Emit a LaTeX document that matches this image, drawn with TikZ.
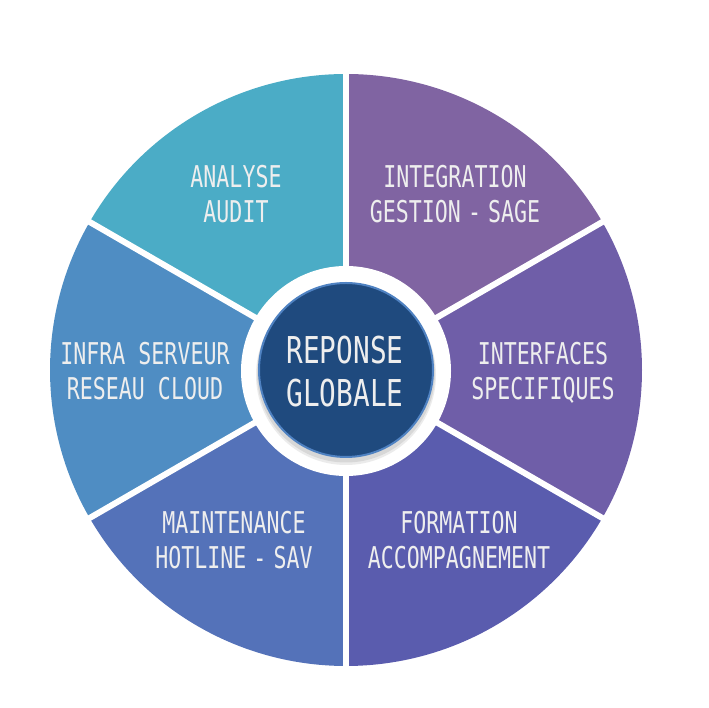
\documentclass[tikz,border=0pt]{standalone}
\usepackage{fontspec}
\newfontfamily\agency{DejaVu Sans Mono}[FakeStretch=0.72]
\newfontfamily\agencyc{DejaVu Sans Mono}[FakeStretch=0.75]
\definecolor{cAqua}{HTML}{4BACC6}
\definecolor{cPurple}{HTML}{8064A2}
\definecolor{cViolet}{HTML}{6F5EA8}
\definecolor{cIndigo}{HTML}{5A5CAE}
\definecolor{cBlueA}{HTML}{5472B9}
\definecolor{cBlueB}{HTML}{4F8DC3}
\definecolor{cCore}{HTML}{1F4A7E}
\definecolor{cCoreEdge}{HTML}{4F82C2}
\definecolor{cText}{HTML}{EEEEEE}
\newcommand\dsep{\hspace{7pt}-\hspace{7pt}}
\tikzset{
  sectortext/.style={text=cText, align=center, text depth=0pt, inner sep=0pt,
    font=\agency\fontsize{30}{35}\selectfont},
  coretext/.style={text=cText, align=center, text depth=0pt, inner sep=0pt,
    font=\agencyc\fontsize{37}{43}\selectfont},
  gap/.style={white, line width=6pt},
}
\begin{document}
\begin{tikzpicture}[x=1pt,y=1pt]
\useasboundingbox (0,0) rectangle (709,708);
\coordinate (C) at (346,338);
% sectors
\fill[cAqua]   (C) -- ++(90:296)  arc[start angle=90,  end angle=150, radius=296] -- cycle;
\fill[cBlueB]  (C) -- ++(150:296) arc[start angle=150, end angle=210, radius=296] -- cycle;
\fill[cBlueA]  (C) -- ++(210:296) arc[start angle=210, end angle=270, radius=296] -- cycle;
\fill[cIndigo] (C) -- ++(270:296) arc[start angle=270, end angle=330, radius=296] -- cycle;
\fill[cViolet] (C) -- ++(-30:296) arc[start angle=-30, end angle=30,  radius=296] -- cycle;
\fill[cPurple] (C) -- ++(30:296)  arc[start angle=30,  end angle=90,  radius=296] -- cycle;
% separators
\foreach \a in {90,150,210,270,330,30}
  \draw[gap] (C) -- ++(\a:305);
% centre
\fill[white] (346,337) circle[radius=105];
\fill[black!30, opacity=0.35] (346,334.5) circle[radius=89];
\fill[black!30, opacity=0.25] (346,333) circle[radius=90];
\filldraw[fill=cCore, draw=cCoreEdge, line width=2pt] (346,338) circle[radius=87];
% texts
\node[sectortext] (analyse) at (236,514) {ANALYSE\\AUDIT};
\node[sectortext] (integ) at (455,514) {INTEGRATION\\GESTION\dsep SAGE};
\node[sectortext] (infra) at (145,337.5) {INFRA SERVEUR\\RESEAU CLOUD};
\node[sectortext] (interf) at (543,337.5) {INTERFACES\\SPECIFIQUES};
\node[sectortext] (maint) at (234,168.5) {MAINTENANCE\\HOTLINE\dsep SAV};
\node[sectortext] (form) at (459,168.5) {FORMATION\\ACCOMPAGNEMENT};
\node[coretext] (core) at (345,336.5) {REPONSE\\GLOBALE};
\end{tikzpicture}
\end{document}
